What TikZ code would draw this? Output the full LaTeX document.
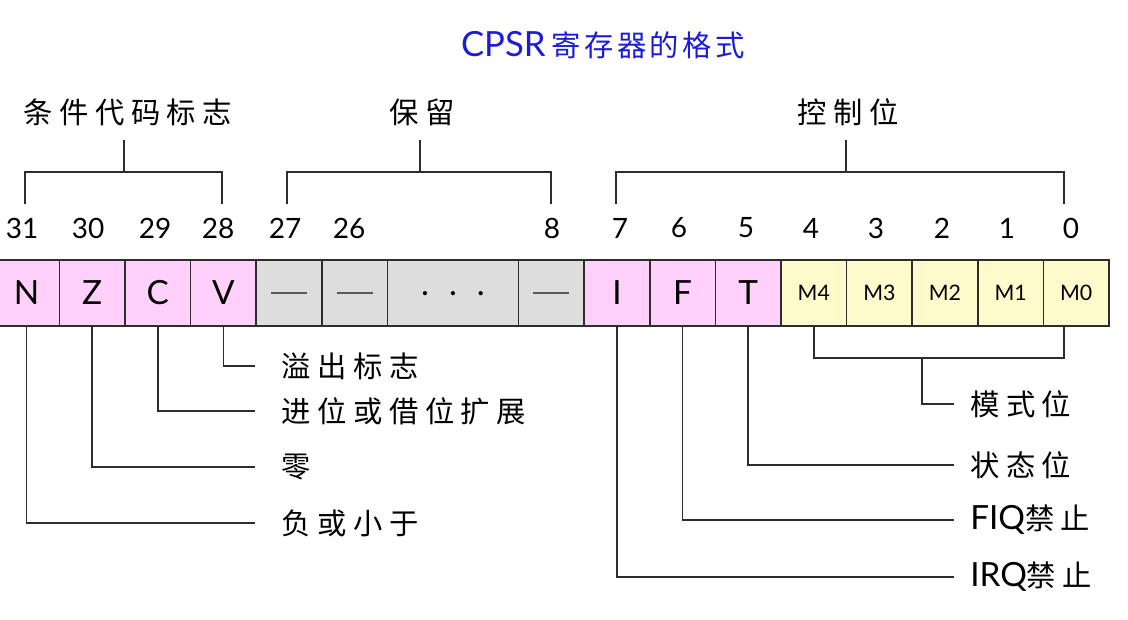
\documentclass[tikz,border=0pt]{standalone}
\usepackage{fontspec}
\setmainfont{Lato}
\newfontfamily\cjk[LetterSpace=22]{Noto Sans CJK SC}
\newfontfamily\cjkt[LetterSpace=12]{Noto Sans CJK SC}
\definecolor{titleblue}{RGB}{28,28,214}
\definecolor{pinkc}{RGB}{255,208,250}
\definecolor{grayc}{RGB}{221,221,221}
\definecolor{yellc}{RGB}{255,250,204}
\definecolor{linec}{RGB}{45,45,45}
\newcommand{\regdash}{\rule[-0.6pt]{27pt}{1.2pt}}
\begin{document}
\begin{tikzpicture}[x=0.75pt,y=-0.75pt,
  cell/.style={draw=linec,line width=1.2pt,anchor=north west,minimum width=49.2pt,minimum height=49.5pt,inner sep=0pt,font=\fontsize{25}{25}\selectfont},
  flag/.style={cell,fill=pinkc},
  resv/.style={cell,fill=grayc,text=black!65},
  mode/.style={cell,fill=yellc,font=\fontsize{16}{16}\selectfont},
  bitno/.style={font=\fontsize{21}{21}\selectfont,inner sep=0pt},
  grp/.style={font=\cjk\fontsize{22}{26}\selectfont,inner sep=0pt},
  lbl/.style={anchor=west,inner xsep=20pt,inner ysep=0pt,font=\fontsize{22}{26}\selectfont},
  rlbl/.style={lbl,inner xsep=12pt},
  conn/.style={draw=linec,line width=1.3pt}]
\useasboundingbox[fill=white] (0,0) rectangle (1128,620);

% title
\node[inner sep=0pt] (title) at (603,45) {\color{titleblue}\fontsize{26}{30}\selectfont CPSR\,{\cjkt\fontsize{22}{26}\selectfont 寄存器的格式}};

% group labels
\node[grp] (gA) at (128,112) {条件代码标志};
\node[grp] (gB) at (422,112) {保留};
\node[grp] (gC) at (848,112) {控制位};

% bit numbers
\node[bitno] (n31) at (22,228) {31};
\node[bitno] (n30) at (88,228) {30};
\node[bitno] (n29) at (155,228) {29};
\node[bitno] (n28) at (218,228) {28};
\node[bitno] (n27) at (285,228) {27};
\node[bitno] (n26) at (349,228) {26};
\node[bitno] (n8) at (552,228) {8};
\node[bitno] (n7) at (620,228) {7};
\node[bitno] (n6) at (679,228) {6};
\node[bitno] (n5) at (746,228) {5};
\node[bitno] (n4) at (811,228) {4};
\node[bitno] (n3) at (876,228) {3};
\node[bitno] (n2) at (942,228) {2};
\node[bitno] (n1) at (1007,228) {1};
\node[bitno] (n0) at (1071,228) {0};

% brackets
\coordinate (bA1) at (25,204); \coordinate (bA2) at (222,204);
\coordinate (bB1) at (287,204); \coordinate (bB2) at (551,204);
\coordinate (bC1) at (616,204); \coordinate (bC2) at (1064,204);
\draw[conn] (bA1) -- ++(0,-32) -| (bA2);
\draw[conn] (bB1) -- ++(0,-32) -| (bB2);
\draw[conn] (bC1) -- ++(0,-32) -| (bC2);
\draw[conn] (124,172) -- (124,140);
\draw[conn] (420,172) -- (420,140);
\draw[conn] (846,172) -- (846,140);

% register cells
\node[flag] (N) at (-7,259) {N};
\node[flag] (Z) at (58.6,259) {Z};
\node[flag] (C) at (124.2,259) {C};
\node[flag] (V) at (189.8,259) {V};
\node[resv] (R1) at (255.4,259) {\regdash};
\node[resv] (R2) at (321,259) {\regdash};
\node[resv,minimum width=98.4pt,text=black] (R3) at (386.6,259) {\raisebox{-4pt}{.\hspace{0.6em}.\hspace{0.6em}.}};
\node[resv] (R4) at (517.8,259) {\regdash};
\node[flag] (I) at (583.4,259) {I};
\node[flag] (F) at (649,259) {F};
\node[flag] (T) at (714.6,259) {T};
\node[mode] (M4) at (780.2,259) {M4};
\node[mode] (M3) at (845.8,259) {M3};
\node[mode] (M2) at (911.4,259) {M2};
\node[mode] (M1) at (977,259) {M1};
\node[mode] (M0) at (1042.6,259) {M0};

% left labels
\node[lbl] (lV) at (255,366) {\cjk 溢出标志};
\node[lbl] (lC) at (255,411) {\cjk 进位或借位扩展};
\node[lbl] (lZ) at (255,467) {\cjk 零};
\node[lbl] (lN) at (255,523) {\cjk 负或小于};
\draw[conn] (V.south) |- (lV.west);
\draw[conn] (C.south) |- (lC.west);
\draw[conn] (Z.south) |- (lZ.west);
\draw[conn] (N.south) |- (lN.west);

% right labels
\node[rlbl] (lM) at (954,404) {\cjk 模式位};
\node[rlbl] (lT) at (954,465) {\cjk 状态位};
\node[rlbl] (lF) at (954,520) {\fontsize{25}{26}\selectfont FIQ{\cjk\fontsize{22}{26}\selectfont 禁止}};
\node[rlbl] (lI) at (954,577) {\fontsize{25}{26}\selectfont IRQ{\cjk\fontsize{22}{26}\selectfont 禁止}};
\coordinate (mr) at (1064,358);
\coordinate (ms) at (922,358);
\draw[conn] (M4.south) |- (mr) -- (mr |- M0.south);
\draw[conn] (ms) |- (lM.west);
\draw[conn] (T.south) |- (lT.west);
\draw[conn] (F.south) |- (lF.west);
\draw[conn] (I.south) |- (lI.west);
\end{tikzpicture}
\end{document}
